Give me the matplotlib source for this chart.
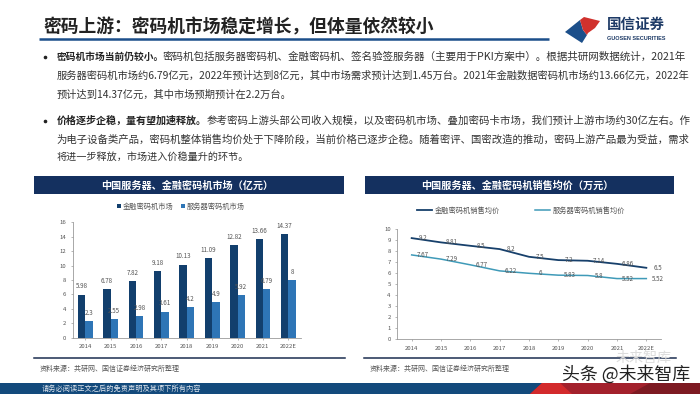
#!/usr/bin/env python3
"""Slide: upstream crypto machine market, bars on the left, prices on the right."""

import matplotlib
matplotlib.use("Agg")
import matplotlib.pyplot as plt
import numpy as np
from matplotlib.patches import Polygon, Rectangle

plt.rcParams['font.family'] = ['Noto Sans CJK SC', 'DejaVu Sans']

W, H = 700, 394
NAVY = '#14305f'
DARK_BAR = '#123f6d'
LIGHT_BAR = '#2e75b6'
GREY = '#555555'

years = ['2014', '2015', '2016', '2017', '2018', '2019', '2020', '2021', '2022E']
finance_market = [5.98, 6.78, 7.82, 9.18, 10.13, 11.09, 12.82, 13.66, 14.37]
server_market = [2.3, 2.55, 2.98, 3.61, 4.2, 4.9, 5.92, 6.79, 8]
finance_price = [9.2, 8.81, 8.5, 8.2, 7.5, 7.2, 7.14, 6.86, 6.5]
server_price = [7.67, 7.29, 6.77, 6.22, 6, 5.83, 5.8, 5.52, 5.52]

title = '密码上游：密码机市场稳定增长，但体量依然较小'
head1 = '密码机市场当前仍较小。'
para1_lines = [
    '密码机包括服务器密码机、金融密码机、签名验签服务器（主要用于PKI方案中）。根据共研网数据统计，2021年',
    '服务器密码机市场约6.79亿元，2022年预计达到8亿元，其中市场需求预计达到1.45万台。2021年金融数据密码机市场约13.66亿元，2022年',
    '预计达到14.37亿元，其中市场预期预计在2.2万台。',
]
head2 = '价格逐步企稳，量有望加速释放。'
para2_lines = [
    '参考密码上游头部公司收入规模，以及密码机市场、叠加密码卡市场，我们预计上游市场约30亿左右。作',
    '为电子设备类产品，密码机整体销售均价处于下降阶段，当前价格已逐步企稳。随着密评、国密改造的推动，密码上游产品最为受益，需求',
    '将进一步释放，市场进入价稳量升的环节。',
]
panel_left = '中国服务器、金融密码机市场（亿元）'
panel_right = '中国服务器、金融密码机销售均价（万元）'
source = '资料来源：共研网、国信证券经济研究所整理'
footer = '请务必阅读正文之后的免责声明及其项下所有内容'


def px_axes(fig, left, right, top, bottom):
    """Axes placed by pixel edges, y measured from the top of the slide."""
    return fig.add_axes([left / W, 1 - bottom / H, (right - left) / W, (bottom - top) / H])


def fit_text(bg, x0, x1, y, s, **kw):
    """Put a line of text between two x pixels by scaling its font size."""
    txt = bg.text(x0, y, s, fontsize=6.5, va='center', **kw)
    ext = txt.get_window_extent(bg.figure.canvas.get_renderer())
    txt.set_fontsize(6.5 * (x1 - x0) / (ext.width * W / bg.figure.bbox.width))
    return txt


def style_axes(ax):
    for side in ('top', 'right'):
        ax.spines[side].set_visible(False)
    for side in ('left', 'bottom'):
        ax.spines[side].set_color('#9a9a9a')
        ax.spines[side].set_linewidth(0.6)
    ax.tick_params(axis='both', length=1.5, width=0.5, color='#9a9a9a', labelsize=4.3,
                   labelcolor=GREY, pad=3)
    ax.patch.set_alpha(0)


def draw_page(bg):
    """Title, text blocks, panel headers, footer and logo, in pixel coordinates."""
    bg.set_xlim(0, W)
    bg.set_ylim(H, 0)
    bg.axis('off')

    fit_text(bg, 43, 433, 27, title, fontweight='bold', color='#222222')
    bg.plot([39, 549], [39, 39], color='#1c4f8a', lw=1.8, solid_capstyle='butt')

    # body text: bold lead-in, then the rest of the first line, then the others
    dark = '#333333'
    bg.plot([44.8, 44.8], [57, 121], 'o', ms=1.6, color='#222222', ls='none')
    fit_text(bg, 56.5, 163, 57, head1, fontweight='bold', color='#222222')
    fit_text(bg, 163, 688, 57, para1_lines[0], color=dark)
    fit_text(bg, 56.5, 688, 76, para1_lines[1], color=dark)
    fit_text(bg, 56.5, 290, 95, para1_lines[2], color=dark)
    fit_text(bg, 56.5, 207, 121, head2, fontweight='bold', color='#222222')
    fit_text(bg, 207, 688, 121, para2_lines[0], color=dark)
    fit_text(bg, 56.5, 688, 139, para2_lines[1], color=dark)
    fit_text(bg, 56.5, 248, 157, para2_lines[2], color=dark)

    # panel headers
    bg.add_patch(Rectangle((33.5, 176), 310.5, 18, color=NAVY, lw=0))
    bg.text(187, 185.5, panel_left, color='white', fontsize=7.3, fontweight='bold',
            ha='center', va='center')
    bg.add_patch(Rectangle((365, 176), 309, 18, color=NAVY, lw=0))
    bg.text(517, 185.5, panel_right, color='white', fontsize=7.3, fontweight='bold',
            ha='center', va='center')

    # source lines
    bg.plot([34, 345], [358, 358], color='#1b2d4f', lw=1.1)
    bg.plot([364, 676], [358, 358], color='#1b2d4f', lw=1.1)
    bg.text(40, 369, source, fontsize=5, color=GREY, va='center')
    bg.text(370, 369, source, fontsize=5, color=GREY, va='center')

    # footer band
    bg.add_patch(Rectangle((0, 383), 700, 11, color='#134a7c', lw=0))
    bg.add_patch(Polygon([[530, 394], [542, 383], [700, 383], [700, 394]], color='#a3212c', lw=0))
    bg.add_patch(Polygon([[530, 394], [542, 383], [560, 383], [572, 394]], color='#d32a2c', lw=0))
    bg.add_patch(Polygon([[630, 394], [650, 383], [700, 383], [700, 394]], color='#7d1a22', lw=0))
    bg.text(42, 389, footer, fontsize=5.2, color='#e0e6ee', va='center')

    # logo
    bg.add_patch(Polygon([[565, 32], [580, 20], [583, 30], [587, 35], [582, 43]],
                         color='#1c4f8a', lw=0))
    bg.add_patch(Polygon([[580, 20], [584, 17], [600, 21], [595, 28], [588, 33], [587, 35], [583, 30]],
                         color='#d0312d', lw=0))
    fit_text(bg, 607, 665, 25, '国信证券', fontweight='bold', color='#1d3a66')
    fit_text(bg, 607, 665, 38, 'GUOSEN SECURITIES', fontweight='bold', color='#1d3a66',
             family='Liberation Sans')

    # watermarks
    fit_text(bg, 616, 672, 358, '未来智库', color='#dcdcdc')
    fit_text(bg, 562, 690, 374, '头条 @未来智库', color='#222222')


def draw_bars(ax):
    x = np.arange(len(years))
    w = 0.29
    b1 = ax.bar(x - w / 2, finance_market, w, color=DARK_BAR, label='金融密码机市场')
    b2 = ax.bar(x + w / 2, server_market, w, color=LIGHT_BAR, label='服务器密码机市场')
    ax.bar_label(b1, labels=[f'{v:g}' for v in finance_market], padding=3, fontsize=4.5, color=GREY)
    ax.bar_label(b2, labels=[f'{v:g}' for v in server_market], padding=3, fontsize=4.5, color=GREY)
    ax.set_xticks(x, years)
    ax.set_xlim(-0.5, len(years) - 0.5)
    ax.set_ylim(0, 16)
    ax.set_yticks(range(0, 17, 2))
    style_axes(ax)
    ax.legend(loc='lower center', bbox_to_anchor=(0.475, 1.07), ncol=2, frameon=False, fontsize=5.2,
              handlelength=0.55, handleheight=0.55, handletextpad=0.3, columnspacing=1.0,
              labelcolor=GREY, borderpad=0)


def draw_lines(ax):
    x = np.arange(len(years))
    ax.plot(x, finance_price, color='#17406b', lw=1.3, label='金融密码机销售均价')
    ax.plot(x, server_price, color='#3f9ab8', lw=1.1, label='服务器密码机销售均价')
    for i in range(len(years)):
        for series in (finance_price, server_price):
            ax.text(i + 0.38, series[i], f'{series[i]:g}', fontsize=4.5, color=GREY,
                    ha='center', va='center')
    ax.set_xticks(x, years)
    ax.set_xlim(-0.5, len(years) - 0.5)
    ax.set_ylim(0, 10)
    ax.set_yticks(range(0, 11))
    style_axes(ax)
    ax.legend(loc='lower center', bbox_to_anchor=(0.47, 1.1), ncol=2, frameon=False, fontsize=5.2,
              handlelength=2.1, handletextpad=0.3, columnspacing=4.9, labelcolor=GREY, borderpad=0)


def main():
    fig = plt.figure(figsize=(7, 3.94), dpi=100, facecolor='white')
    bg = fig.add_axes([0, 0, 1, 1])
    draw_page(bg)
    draw_bars(px_axes(fig, 72.5, 301, 222.3, 337.7))
    draw_lines(px_axes(fig, 397, 661, 229.3, 339.3))
    fig.savefig('out.png', dpi=100, facecolor='white')
    plt.close(fig)


if __name__ == "__main__":
    main()
